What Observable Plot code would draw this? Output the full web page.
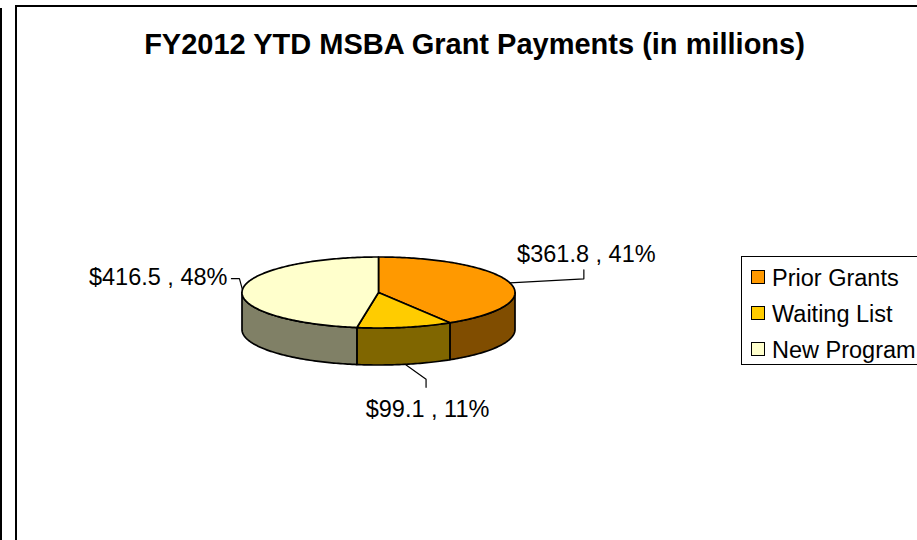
<!DOCTYPE html>
<html>
<head>
<meta charset="utf-8">
<script src="https://cdn.jsdelivr.net/npm/d3@7"></script>
<script src="https://cdn.jsdelivr.net/npm/@observablehq/plot@0.6"></script>
<style>
html,body{margin:0;padding:0;background:#fff;overflow:hidden}
#page{position:relative;width:917px;height:540px;overflow:hidden;font-family:"Liberation Sans",Arial,sans-serif;color:#000}
#bar{position:absolute;left:0;top:8px;bottom:0;width:2px;background:#000}
#frame{position:absolute;left:15px;top:5px;width:910px;height:545px;border:2px solid #000;box-sizing:border-box}
#title{position:absolute;left:15.5px;width:918px;top:27px;text-align:center;font-weight:bold;font-size:29px;line-height:34px;white-space:nowrap}
#chart{position:absolute;left:0;top:0}
#chart svg{display:block;background:transparent}
#legend{position:absolute;left:741px;top:256px;width:190px;height:109px;border:1.5px solid #000;box-sizing:border-box;background:#fff}
.item{position:absolute;left:9px;font-size:23.5px;line-height:24px;white-space:nowrap}
.sw{position:absolute;left:0;top:4px;width:14px;height:14px;border:1.5px solid #000;box-sizing:border-box}
.lb{position:absolute;left:21px;top:0}
</style>
</head>
<body>
<div id="page">
  <div id="bar"></div>
  <div id="frame"></div>
  <div id="chart"></div>
  <div id="title"></div>
  <div id="legend"></div>
</div>
<script>
const titleText = "FY2012 YTD MSBA Grant Payments (in millions)";
const categories = ["Prior Grants", "Waiting List", "New Program"];
const amounts = [361.8, 99.1, 416.5];
const amountLabels = ["$361.8", "$99.1", "$416.5"];
const percents = [41, 11, 48];
const topColors = ["#FF9900", "#FFCC00", "#FFFFCC"];
const sideColors = ["#804D00", "#806600", "#808066"];

// Leader elbows and label offsets, in pixels from the slice's rim point
const leaderOffsets = [[[0,0],[74,-4],[74,-13]], [[0,0],[21,15],[21,23]], [[0,0],[-3,-11],[-11,-11]]];
const labelOffsets = [[76.5,-28.5], [22.5,45], [-15,-12]];
const labelAnchors = ["middle", "middle", "end"];

const W = 917, H = 540;
const cxPx = 378, cyPx = 292, rxPx = 136.5, ryPx = 35.5, depth = 37 / ryPx;

const slices = d3.pie().sort(null).startAngle(0).endAngle(2 * Math.PI)(amounts);
const pt = (a, drop = 0) => ({x: Math.sin(a), y: Math.cos(a) - drop});
const arc = (a0, a1, drop = 0) => {
  const n = Math.max(2, Math.ceil((a1 - a0) / (Math.PI / 180)));
  return d3.range(n + 1).map(i => pt(a0 + (a1 - a0) * i / n, drop));
};
const closed = pts => [...pts, pts[0]];

const topFace = s => closed([{x: 0, y: 0}, ...arc(s.startAngle, s.endAngle)]);
const sideFace = s => {
  const a0 = Math.max(s.startAngle, Math.PI / 2), a1 = Math.min(s.endAngle, 3 * Math.PI / 2);
  if (a1 <= a0) return [];
  return closed([...arc(a0, a1), ...arc(a0, a1, depth).reverse()]);
};
const rim = s => {
  const a = (s.startAngle + s.endAngle) / 2;
  return pt(a, Math.abs(a - Math.PI) < Math.PI / 2 - 0.3 ? depth : 0);
};
const face = (pts, fill) => Plot.line(pts, {x: "x", y: "y", fill, stroke: "#000", strokeWidth: 1.7, strokeLinejoin: "round"});

const leaders = slices.map((s, i) => {
  const r = rim(s);
  return leaderOffsets[i].map(([dx, dy]) => ({x: r.x + dx / rxPx, y: r.y - dy / ryPx}));
});

const marks = [
  ...slices.map((s, i) => face(sideFace(s), sideColors[i])),
  ...slices.map((s, i) => face(topFace(s), topColors[i])),
  ...leaders.map(l => Plot.line(l, {x: "x", y: "y", stroke: "#000", strokeWidth: 1.2})),
  ...slices.map((s, i) => {
    const r = rim(s);
    return Plot.text([`${amountLabels[i]} , ${percents[i]}%`], {
      x: () => r.x, y: () => r.y, text: d => d,
      dx: labelOffsets[i][0], dy: labelOffsets[i][1],
      textAnchor: labelAnchors[i], fontSize: 23.5, fill: "#000", stroke: "none",
      fontFamily: "Liberation Sans"
    });
  })
];

const chart = Plot.plot({
  width: W, height: H,
  margin: 0,
  style: {background: "transparent", overflow: "visible"},
  x: {domain: [-1, 1], range: [cxPx - rxPx, cxPx + rxPx], axis: null},
  y: {domain: [-1, 1], range: [cyPx + ryPx, cyPx - ryPx], axis: null},
  marks
});
document.getElementById("chart").appendChild(chart);
document.getElementById("title").textContent = titleText;

const legend = document.getElementById("legend");
const tops = [12, 48, 84];
categories.forEach((c, i) => {
  const it = document.createElement("div");
  it.className = "item";
  it.style.top = tops[i] - 3 + "px";
  it.innerHTML = `<span class="sw" style="background:${topColors[i]}"></span><span class="lb">${c}</span>`;
  legend.appendChild(it);
});
</script>
</body>
</html>
